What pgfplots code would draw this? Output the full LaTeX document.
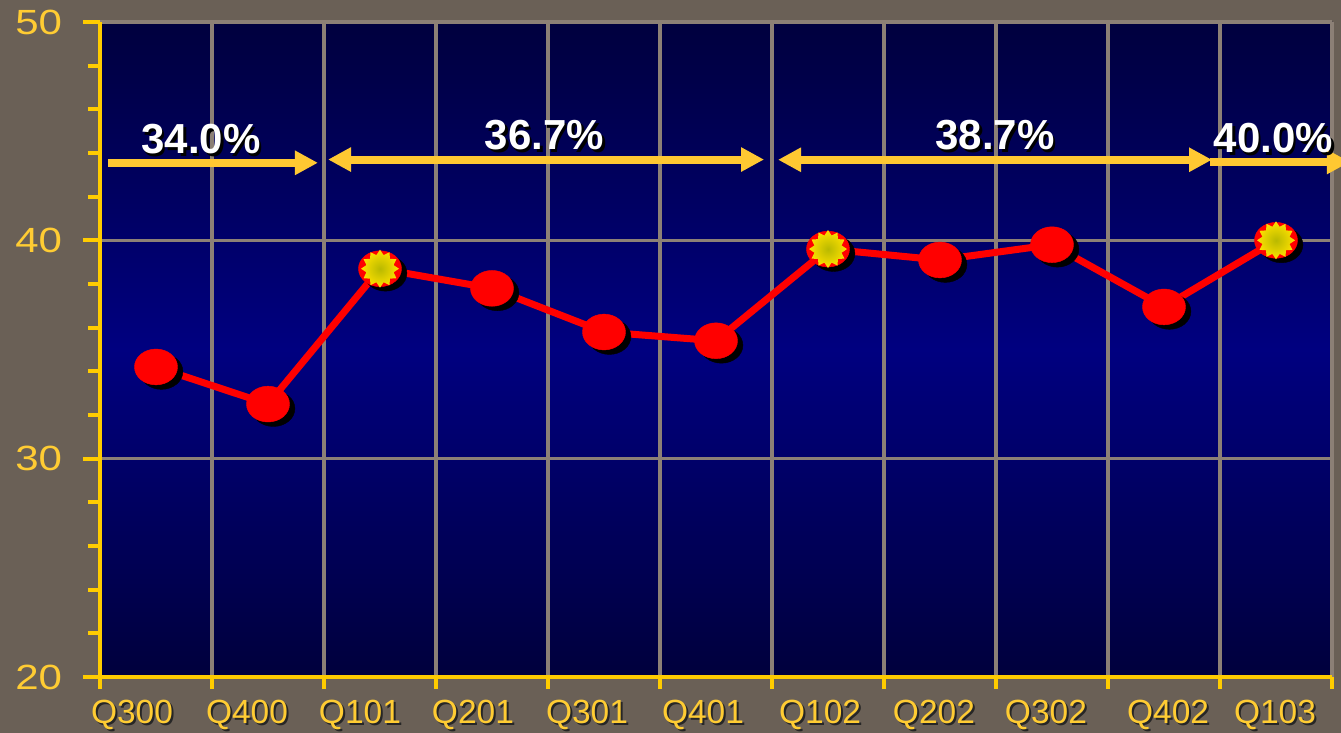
\documentclass[border=0pt]{standalone}
\usepackage{pgfplots}
\pgfplotsset{compat=1.18}
\usepackage{fontspec}
\setmainfont{Liberation Sans}
\usetikzlibrary{shapes.geometric,arrows.meta}
\definecolor{bg}{RGB}{106,96,86}
\definecolor{gridgray}{RGB}{140,128,118}
\definecolor{axisyellow}{RGB}{255,204,0}
\definecolor{lblyellow}{RGB}{255,204,51}
\definecolor{arrowyellow}{RGB}{255,200,50}
\definecolor{navytop}{RGB}{0,0,62}
\definecolor{navymid}{RGB}{0,0,128}
\definecolor{navybot}{RGB}{0,0,60}
\definecolor{burstin}{RGB}{185,185,0}
\definecolor{burstout}{RGB}{255,225,0}
\newcommand\sh[1]{\makebox[0pt][l]{\kern2bp\raisebox{-2bp}{\color{black!85}#1}}#1}
\newcommand\pct[3]{%
  \node[anchor=base,text=black,font=\bfseries\fontsize{42bp}{46bp}\selectfont] at ([xshift=2.5bp,yshift=-2.5bp]axis cs:#1,#2) {#3};
  \node[anchor=base,text=white,font=\bfseries\fontsize{42bp}{46bp}\selectfont] at (axis cs:#1,#2) {#3};}
\pgfdeclareplotmark{burst}{%
  \node[star,star points=12,star point ratio=1.35,inner sep=0pt,minimum size=38bp,
        shading=radial,inner color=burstin,outer color=burstout] {};}
\pgfplotstableread{
x y
0 34.2
1 32.5
2 38.7
3 37.8
4 35.8
5 35.4
6 39.6
7 39.1
8 39.8
9 36.95
10 40.0
}\gm
\pgfplotstableread{
x y
2 38.7
6 39.6
10 40.0
}\bursts
\begin{document}
\begin{tikzpicture}
\fill[bg] (0,0) rectangle (1341bp,733bp);
\begin{axis}[
  at={(100bp,56bp)}, anchor=south west,
  scale only axis, width=1232bp, height=655bp,
  xmin=-0.5, xmax=10.5, ymin=20, ymax=50,
  axis background/.style={top color=navytop, bottom color=navybot, middle color=navymid},
  axis x line*=bottom, axis y line*=left,
  axis line style={-, draw=axisyellow, line width=4bp},
  ytick={20,30,40,50}, yticklabels={20,30,40,50},
  minor ytick={22,24,26,28,32,34,36,38,42,44,46,48},
  xtick={-0.214,0.8125,1.821,2.83,3.848,4.884,5.929,6.946,7.946,9.036,9.991},
  xticklabels={\sh{Q300},\sh{Q400},\sh{Q101},\sh{Q201},\sh{Q301},\sh{Q401},\sh{Q102},\sh{Q202},\sh{Q302},\sh{Q402},\sh{Q103}},
  minor xtick={-0.5,0.5,1.5,2.5,3.5,4.5,5.5,6.5,7.5,8.5,9.5,10.5},
  tick align=outside,
  major tick length=17bp, minor tick length=12bp,
  tick style={draw=axisyellow, line width=4bp},
  minor tick style={draw=axisyellow, line width=4bp},
  major x tick style={draw=none},
  xminorgrids=true, ymajorgrids=true, xmajorgrids=false,
  major grid style={draw=gridgray, line width=3.5bp},
  minor grid style={draw=gridgray, line width=3.5bp},
  xticklabel style={font=\fontsize{33.5bp}{36bp}\selectfont, text=lblyellow, anchor=base, yshift=-29bp},
  yticklabel style={font=\fontsize{35bp}{38bp}\selectfont, text=lblyellow, xscale=1.2, anchor=east, xshift=-14bp},
  clip=false,
]
\addplot[red, line width=7bp, mark=none] table[x=x,y=y] {\gm};
\addplot[only marks, mark=*, mark size=18, black, mark options={xscale=1.2, xshift=4.5bp, yshift=-4.5bp}] table[x=x,y=y] {\gm};
\addplot[only marks, mark=*, mark size=18, red, mark options={xscale=1.2}] table[x=x,y=y] {\gm};
\addplot[only marks, mark=burst] table[x=x,y=y] {\bursts};
\draw[arrowyellow, line width=8bp, -{Triangle[length=23bp,width=23bp]}] (axis cs:-0.4286,43.55) -- (axis cs:1.446,43.55);
\draw[arrowyellow, line width=8bp, {Triangle[length=23bp,width=23bp]}-{Triangle[length=23bp,width=23bp]}] (axis cs:1.536,43.70) -- (axis cs:5.429,43.70);
\draw[arrowyellow, line width=8bp, {Triangle[length=23bp,width=23bp]}-{Triangle[length=23bp,width=23bp]}] (axis cs:5.554,43.69) -- (axis cs:9.429,43.69);
\draw[arrowyellow, line width=8bp, -{Triangle[length=23bp,width=23bp]}] (axis cs:9.411,43.59) -- (axis cs:10.66,43.59);
\pct{0.402}{43.96}{34.0\%}
\pct{3.469}{44.14}{36.7\%}
\pct{7.491}{44.14}{38.7\%}
\pct{9.978}{44.0}{40.0\%}
\end{axis}
\pgfresetboundingbox
\useasboundingbox (0,0) rectangle (1341bp,733bp);
\end{tikzpicture}
\end{document}
